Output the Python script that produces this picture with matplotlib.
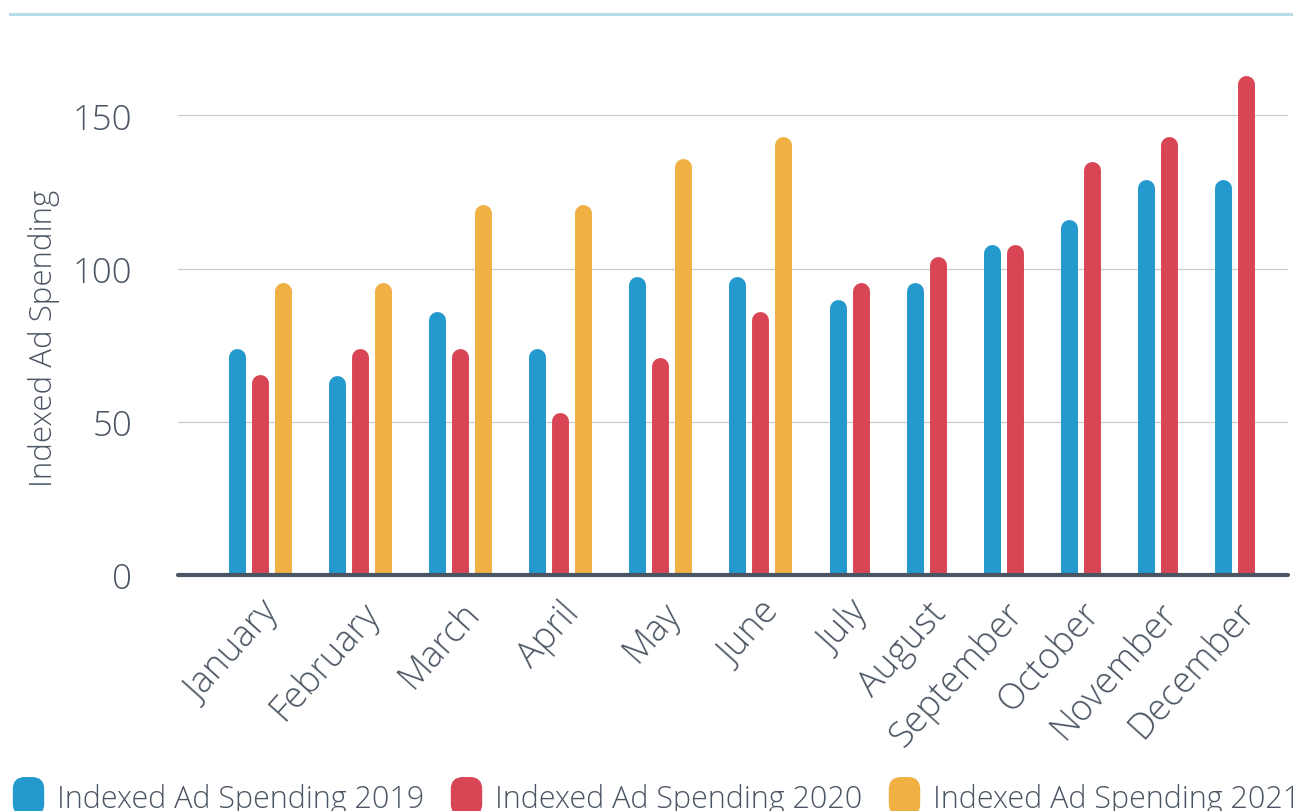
import numpy as np
import matplotlib
matplotlib.use("Agg")
import matplotlib.pyplot as plt
import matplotlib.transforms as mtransforms
from matplotlib.lines import Line2D
from matplotlib.patches import FancyBboxPatch

months = ["January", "February", "March", "April", "May", "June", "July",
          "August", "September", "October", "November", "December"]
spend_2019 = [74, 65, 86, 74, 97.5, 97.5, 90, 95.5, 108, 116, 129, 129]
spend_2020 = [65.5, 74, 74, 53, 71, 86, 95.5, 104, 108, 135, 143, 163]
spend_2021 = [95.5, 95.5, 121, 121, 136, 143, np.nan, np.nan, np.nan, np.nan, np.nan, np.nan]
labels = ["Indexed Ad Spending 2019", "Indexed Ad Spending 2020", "Indexed Ad Spending 2021"]
colors = ["#2399cd", "#d84656", "#f0b043"]
yticks = [0, 50, 100, 150]

text_col = "#4b5563"
plt.rcParams["font.family"] = ["Open Sans", "DejaVu Sans"]

fig = plt.figure(figsize=(12.93, 8.12), dpi=100)
ax = fig.add_axes([0.1377, 0.2906, 0.8583, 0.6414])

series = [spend_2019, spend_2020, spend_2021]
bar_w = 12.2  # points
gap = 2.35    # between groups, in bar steps

# bars are packed per month: months with fewer series take less room
xs = [[] for _ in series]
ys = [[] for _ in series]
centers = []
x = 0.0
for i in range(len(months)):
    group = []
    for s, vals in enumerate(series):
        if not np.isnan(vals[i]):
            xs[s].append(x)
            ys[s].append(vals[i])
            group.append(x)
            x += 1
    centers.append(np.mean(group))
    x += gap - 1
last = x - gap

# shift down by the cap radius so the rounded top ends at the value
trans = mtransforms.offset_copy(ax.transData, fig=fig, y=-bar_w / 2, units="points")
for s in range(len(series)):
    ax.vlines(xs[s], 0, ys[s], colors=colors[s], linewidth=bar_w,
              capstyle="round", transform=trans, zorder=3)

ax.set_xlim(-2.54, last + 1.8)
ax.set_ylim(0, 170)
ax.set_yticks(yticks)
ax.set_xticks(centers)
ax.set_xticklabels(months, rotation=48, ha="right", va="top", rotation_mode="anchor")
ax.tick_params(axis="y", length=0, pad=33, labelsize=25, labelcolor=text_col)
ax.tick_params(axis="x", length=0, pad=14, labelsize=26, labelcolor=text_col)
for lab in ax.get_xticklabels() + ax.get_yticklabels():
    lab.set_fontweight("light")

ax.yaxis.grid(True, color="#cccccc", linewidth=0.9)
ax.set_axisbelow(True)
for side in ["top", "right", "left"]:
    ax.spines[side].set_visible(False)
ax.spines["bottom"].set_color("#4a5563")
ax.spines["bottom"].set_linewidth(3)
ax.spines["bottom"].set_capstyle("round")
ax.spines["bottom"].set_zorder(4)

ax.set_ylabel("Indexed Ad Spending", fontsize=22.5, color=text_col, fontweight="light")
ax.yaxis.set_label_coords(-0.106, 0.456)

# top decoration line
fig.add_artist(Line2D([0.008, 1.0], [0.9815, 0.9815], transform=fig.transFigure,
                      color="#b6dcea", linewidth=2.2))

marker_path = FancyBboxPatch((-0.8, -1), 1.6, 2, boxstyle="round,pad=0,rounding_size=0.6").get_path()
handles = [Line2D([], [], linestyle="none", marker=marker_path, markersize=27,
                  markerfacecolor=c, markeredgecolor=c) for c in colors]
leg = fig.legend(handles, labels, loc="upper left", bbox_to_anchor=(0.0, 0.05),
                 ncol=3, frameon=False, fontsize=22, handlelength=1.0,
                 handletextpad=0.45, columnspacing=0.87, borderaxespad=0)
for t in leg.get_texts():
    t.set_color(text_col)
    t.set_fontweight("light")

fig.savefig("out.png", dpi=100)
